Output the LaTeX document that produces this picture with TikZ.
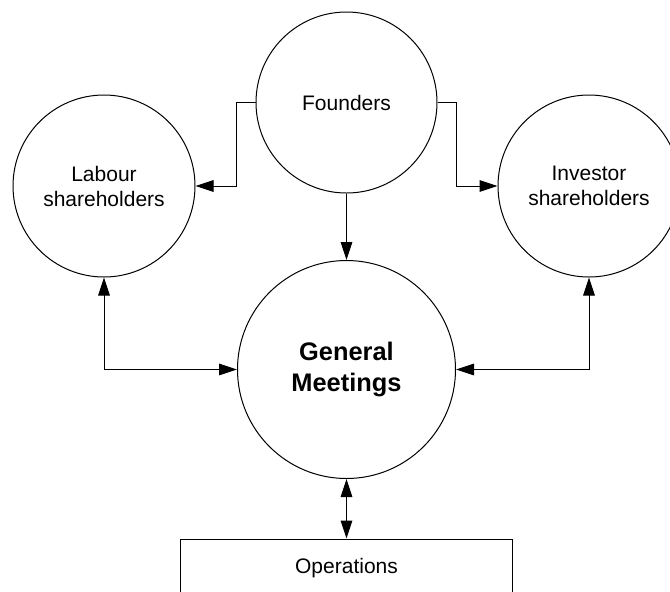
\documentclass[tikz,border=0pt]{standalone}
\usepackage{fontspec}
\setmainfont{Liberation Sans}
\usetikzlibrary{arrows.meta}

\begin{document}
\begin{tikzpicture}[x=0.5pt,y=-0.5pt,line width=0.5pt,
	party/.style={draw,circle,inner sep=0pt,minimum size=#1,align=center,font=\fontsize{10.5}{12.5}\selectfont},
	onearrow/.style={-{Triangle[length=9pt,width=5.8pt]}},
	botharrows/.style={{Triangle[length=9pt,width=5.8pt]}-{Triangle[length=9pt,width=5.8pt]}}]
	\clip (0,0) rectangle (670,591);
	\node[party=90.5pt] (f) at (346.5,102.5) {Founders};
	\node[party=91pt] (l) at (104,186) {Labour\\shareholders};
	\node[party=91pt] (i) at (589,186) {Investor\\shareholders};
	\node[party=109pt,font=\fontsize{12.7}{15.5}\selectfont\bfseries] (g) at (346.5,369.5) {General\\Meetings};
	\node[draw,inner sep=0pt,minimum width=166pt,minimum height=29pt,font=\fontsize{10.5}{12.5}\selectfont] (o) at (346.5,568) {Operations};
	\draw[onearrow] (f.west) -- ++(-19,0) |- (l.east);
	\draw[onearrow] (f.east) -- ++(19,0) |- (i.west);
	\draw[onearrow] (f.south) -- (g.north);
	\draw[botharrows] (l.south) |- (g.west);
	\draw[botharrows] (i.south) |- (g.east);
	\draw[botharrows] (g.south) -- (o.north);
\end{tikzpicture}
\end{document}
